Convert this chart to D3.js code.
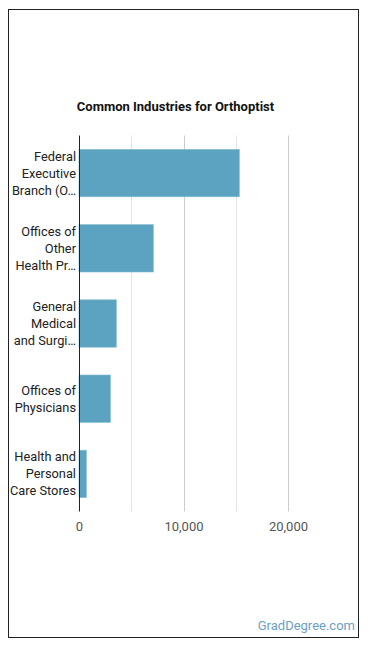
<!DOCTYPE html>
<html>
<head>
<meta charset="utf-8">
<script src="https://cdn.jsdelivr.net/npm/d3@7"></script>
<style>
  body { margin: 0; background: #fff; font-family: Roboto, "Open Sans", sans-serif; }
  svg { display: block; }
</style>
</head>
<body>
<div id="chart"></div>
<script>
const industries = [
  'Federal Executive Branch (OES Designation)',
  'Offices of Other Health Practitioners',
  'General Medical and Surgical Hospitals',
  'Offices of Physicians',
  'Health and Personal Care Stores'
];
const employment = [15340, 7110, 3570, 3000, 700];
const tickValues = [0, 10000, 20000];
const gridValues = [0, 5000, 10000, 15000, 20000];

const W = 370, H = 648;
const plot = { left: 79, right: 288, top: 135.5, bottom: 511.5 };

const svg = d3.select('#chart').append('svg')
  .attr('width', W).attr('height', H);

svg.append('rect')
  .attr('x', 8.5).attr('y', 9.5)
  .attr('width', 350).attr('height', 628)
  .attr('fill', '#fff').attr('stroke', '#222').attr('stroke-width', 1);

svg.append('text')
  .attr('x', 175.5).attr('y', 111)
  .attr('text-anchor', 'middle')
  .style('font-size', '13px').style('font-weight', 'bold')
  .attr('fill', '#111')
  .text('Common Industries for Orthoptist');

const x = d3.scaleLinear().domain([0, 20000]).range([plot.left, plot.right]);
const y = d3.scaleBand().domain(industries)
  .range([plot.top, plot.bottom])
  .paddingInner(0.37).paddingOuter(0.185);

// grid
svg.append('g').selectAll('line')
  .data(gridValues.slice(1))
  .join('line')
  .attr('x1', d => Math.round(x(d)) + 0.5).attr('x2', d => Math.round(x(d)) + 0.5)
  .attr('y1', plot.top).attr('y2', plot.bottom)
  .attr('stroke', d => d % 10000 === 0 ? '#ccc' : '#e4e4e4')
  .attr('stroke-width', 1);

// bars
svg.append('g').selectAll('rect')
  .data(employment)
  .join('rect')
  .attr('x', x(0))
  .attr('y', (d, i) => y(industries[i]))
  .attr('width', d => x(d) - x(0))
  .attr('height', y.bandwidth())
  .attr('fill', '#5ba3c1')
  .attr('stroke', '#7fb9d1').attr('stroke-width', 0.6);

// y axis line
svg.append('line')
  .attr('x1', plot.left + 0.5).attr('x2', plot.left + 0.5)
  .attr('y1', plot.top).attr('y2', plot.bottom)
  .attr('stroke', '#222').attr('stroke-width', 1);

// x tick labels
const xAxis = d3.axisBottom(x).tickValues(tickValues)
  .tickFormat(d3.format(',')).tickSize(0).tickPadding(0);
const gx = svg.append('g')
  .attr('transform', `translate(0, ${plot.bottom + 10})`)
  .call(xAxis);
gx.select('.domain').remove();
gx.selectAll('text')
  .style('font-size', '13px').style('font-family', 'Roboto, sans-serif')
  .attr('fill', '#555');

// y labels with wrapping
const labelX = 76, maxW = 68, lineH = 17, maxLines = 3;
const gy = svg.append('g');
industries.forEach(name => {
  const t = gy.append('text')
    .attr('text-anchor', 'end')
    .style('font-size', '12.8px')
    .attr('fill', '#222');
  const measure = t.append('tspan');
  const words = name.split(' ');
  const lines = [];
  let cur = '';
  const fits = s => { measure.text(s); return measure.node().getComputedTextLength() <= maxW; };
  let i = 0;
  for (; i < words.length; i++) {
    const test = cur ? cur + ' ' + words[i] : words[i];
    if (fits(test) || !cur) { cur = test; }
    else {
      lines.push(cur);
      cur = words[i];
      if (lines.length === maxLines - 1) { i++; break; }
    }
  }
  if (lines.length === maxLines - 1 && i < words.length) {
    cur = [cur].concat(words.slice(i)).join(' ');
  }
  if (!fits(cur)) {
    let s = cur;
    while (s.length > 1 && !fits(s + '…')) s = s.slice(0, -1);
    cur = s.trimEnd() + '…';
  }
  lines.push(cur);
  measure.remove();
  const cy = y(name) + y.bandwidth() / 2;
  const y0 = cy - (lines.length - 1) * lineH / 2;
  lines.forEach((l, k) => {
    t.append('tspan')
      .attr('x', labelX).attr('y', y0 + k * lineH)
      .attr('dy', '0.35em')
      .text(l);
  });
});

svg.append('text')
  .attr('x', 355).attr('y', 630)
  .attr('text-anchor', 'end')
  .style('font-size', '13px')
  .attr('fill', '#6d9fbf')
  .text('GradDegree.com');
</script>
</body>
</html>
